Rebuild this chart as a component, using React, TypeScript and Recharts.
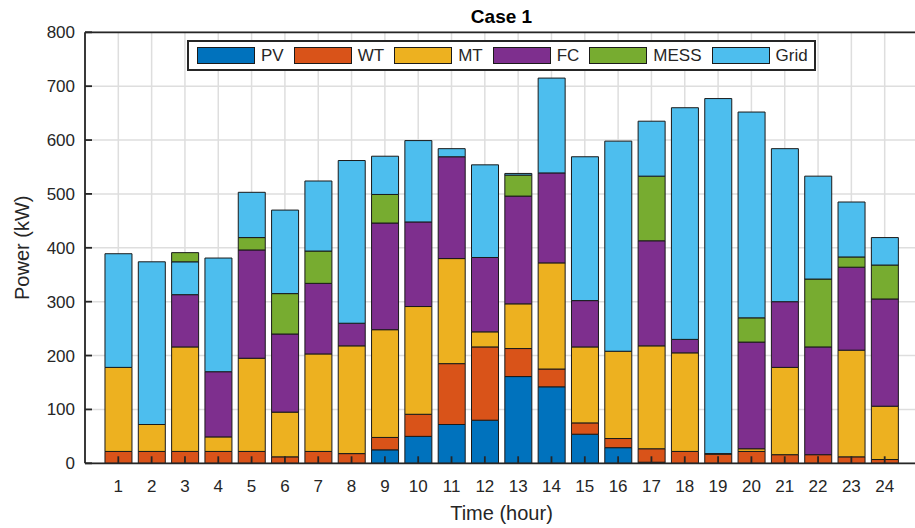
import React from "react";
import { BarChart, Bar, XAxis, YAxis, CartesianGrid, Legend } from "recharts";

const hours = [1, 2, 3, 4, 5, 6, 7, 8, 9, 10, 11, 12, 13, 14, 15, 16, 17, 18, 19, 20, 21, 22, 23, 24];

// kW supplied by each source, hour 1..24
const pv = [0, 0, 0, 0, 0, 0, 0, 0, 25, 50, 72, 80, 161, 142, 54, 29, 2, 0, 0, 0, 0, 0, 0, 0];
const wt = [22, 22, 22, 22, 22, 12, 22, 18, 23, 41, 113, 136, 52, 33, 21, 17, 25, 22, 17, 22, 16, 16, 12, 7];
const mt = [156, 50, 194, 27, 173, 83, 181, 200, 200, 200, 195, 28, 83, 197, 141, 162, 191, 183, 1, 5, 162, 0, 198, 99];
const fc = [0, 0, 97, 121, 201, 145, 131, 42, 198, 157, 189, 138, 200, 167, 86, 0, 195, 25, 0, 198, 122, 200, 154, 199];
const mess = [0, 0, 17, 0, 23, 75, 60, 0, 53, 0, 0, 0, 39, 0, 0, 0, 120, 0, 0, 45, 0, 126, 19, 63];
const grid = [211, 302, 61, 211, 84, 155, 130, 302, 71, 151, 15, 172, 3, 176, 267, 390, 102, 430, 659, 382, 284, 191, 102, 51];

const powerTicks = [0, 100, 200, 300, 400, 500, 600, 700, 800];

// hours where the MESS block is stacked above the grid block
const messAboveGrid = [3];

const series = [
  { key: "pv", name: "PV", color: "#0072BD" },
  { key: "wt", name: "WT", color: "#D95319" },
  { key: "mt", name: "MT", color: "#EDB120" },
  { key: "fc", name: "FC", color: "#7E2F8E" },
  { key: "mess", name: "MESS", color: "#77AC30" },
  { key: "grid", name: "Grid", color: "#4DBEEE" },
];

const data = hours.map((h, i) => {
  const above = messAboveGrid.includes(h);
  return {
    hour: h,
    pv: pv[i],
    wt: wt[i],
    mt: mt[i],
    fc: fc[i],
    mess: above ? 0 : mess[i],
    grid: grid[i],
    messTop: above ? mess[i] : 0,
  };
});

const FONT = '"Liberation Sans", Arial, Helvetica, sans-serif';
const INK = "#262626";
const EDGE = "#1a1a1a";

const LegendBox = () => (
  <div
    style={{
      boxSizing: "border-box",
      width: 629,
      height: 31,
      border: `2px solid ${INK}`,
      background: "#fff",
      display: "flex",
      alignItems: "center",
      paddingLeft: 8,
      fontFamily: FONT,
      fontSize: 17,
      color: INK,
    }}
  >
    {series.map((s) => (
      <div key={s.key} style={{ display: "flex", alignItems: "center", marginRight: 10 }}>
        <span
          style={{
            boxSizing: "border-box",
            width: 58,
            height: 17,
            background: s.color,
            border: `1px solid ${EDGE}`,
            display: "inline-block",
          }}
        />
        <span style={{ marginLeft: 6, lineHeight: "17px" }}>{s.name}</span>
      </div>
    ))}
  </div>
);

export default function App() {
  const axisLine = { stroke: INK, strokeWidth: 1.8 };
  const tickLine = { stroke: INK, strokeWidth: 1.8 };
  const tickStyle = { fill: INK, fontSize: 17, fontFamily: FONT };

  return (
    <div
      style={{
        position: "absolute",
        left: 0,
        top: 0,
        width: 915,
        height: 528,
        overflow: "hidden",
        background: "#fff",
        fontFamily: FONT,
      }}
    >
      <BarChart
        width={930}
        height={528}
        data={data}
        barCategoryGap="10%"
        margin={{ top: 31.3, right: 11, bottom: 4.7, left: 10 }}
      >
        <CartesianGrid stroke="#dedede" strokeWidth={1.5} />
        {series.map((s) => (
          <Bar
            key={s.key}
            dataKey={s.key}
            name={s.name}
            stackId="a"
            fill={s.color}
            stroke={EDGE}
            strokeWidth={1}
            isAnimationActive={false}
          />
        ))}
        <Bar
          dataKey="messTop"
          name="MESS"
          stackId="a"
          fill="#77AC30"
          stroke={EDGE}
          strokeWidth={1}
          legendType="none"
          isAnimationActive={false}
        />
        <XAxis
          dataKey="hour"
          interval={0}
          height={60}
          padding={{ left: 16.65, right: 16.65 }}
          tickSize={-7}
          tickMargin={24}
          axisLine={axisLine}
          tickLine={tickLine}
          tick={tickStyle}
          label={{
            value: "Time (hour)",
            position: "insideBottom",
            offset: 3,
            style: { fill: INK, fontSize: 20, fontFamily: FONT },
          }}
        />
        <XAxis
          xAxisId="top"
          dataKey="hour"
          orientation="top"
          interval={0}
          height={1}
          padding={{ left: 16.65, right: 16.65 }}
          tickSize={-7}
          tick={false}
          axisLine={axisLine}
          tickLine={tickLine}
          label={{
            value: "Case 1",
            position: "top",
            offset: 8,
            style: { fill: "#000", fontSize: 19, fontWeight: "bold", fontFamily: FONT },
          }}
        />
        <YAxis
          type="number"
          domain={[0, 800]}
          ticks={powerTicks}
          width={75}
          tickSize={-7}
          tickMargin={17}
          axisLine={axisLine}
          tickLine={tickLine}
          tick={tickStyle}
          label={{
            value: "Power (kW)",
            angle: -90,
            position: "insideLeft",
            offset: 12,
            style: { fill: INK, fontSize: 20, fontFamily: FONT, textAnchor: "middle" },
          }}
        />
        <YAxis
          yAxisId="right"
          orientation="right"
          type="number"
          domain={[0, 800]}
          ticks={powerTicks}
          width={1}
          tickSize={-7}
          tick={false}
          axisLine={axisLine}
          tickLine={tickLine}
        />
        <Legend
          layout="horizontal"
          verticalAlign="middle"
          align="center"
          content={() => <LegendBox />}
          wrapperStyle={{ top: 40, left: 187, width: 629, height: 31 }}
        />
      </BarChart>
    </div>
  );
}
